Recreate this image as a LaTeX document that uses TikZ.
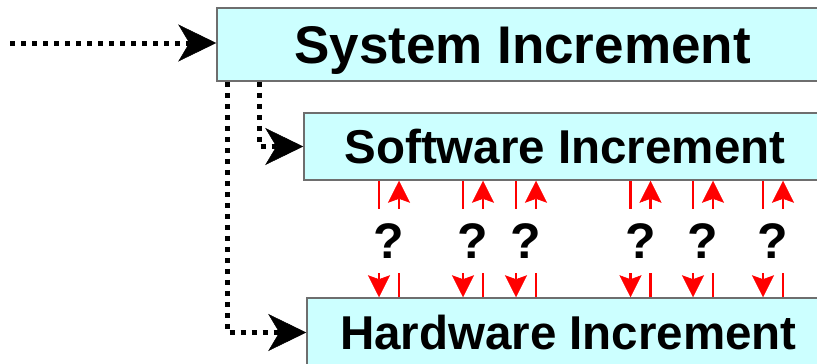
\documentclass[tikz,border=0pt]{standalone}
\usepackage{fontspec}
\setmainfont{Liberation Sans}
\usepackage{xcolor}
\usepackage{tikz}
\usetikzlibrary{arrows.meta}
\definecolor{boxcolor}{HTML}{CCFFFF}
\definecolor{edgecolor}{HTML}{6E6E6E}

\begin{document}
\begin{tikzpicture}[x=1pt, y=-1pt,
  incbox/.style={draw=edgecolor, line width=1.5pt, fill=boxcolor, inner sep=0pt, text depth=0pt},
  dotflow/.style={line width=5pt, dash pattern=on 5pt off 6pt, -{Stealth[length=38pt, width=37pt, inset=11pt, line width=0.5pt]}},
  redflow/.style={red, line width=2.5pt},
  redtip/.style={-{Stealth[length=22pt, width=22pt, inset=4pt, line width=0.5pt]}},
  query/.style={minimum height=64pt, inner sep=0pt, font=\fontsize{50pt}{60pt}\selectfont\bfseries}]%
\useasboundingbox (0,0) rectangle (817,364);%
\clip (0,0) rectangle (817,364);%
\node[incbox, minimum width=611pt, minimum height=73pt, text height=38pt, font=\fontsize{53pt}{64pt}\selectfont\bfseries] (sys) at (522.5,44.5) {System Increment};%
\node[incbox, minimum width=522pt, minimum height=67pt, text height=34pt, font=\fontsize{47.5pt}{57pt}\selectfont\bfseries] (sw) at (565,146.5) {Software Increment};%
\node[incbox, minimum width=523pt, minimum height=69pt, text height=34pt, font=\fontsize{47.5pt}{57pt}\selectfont\bfseries] (hw) at (568.5,332.5) {Hardware Increment};%
% dotted flows
\coordinate (in) at (10,43);%
\draw[dotflow] (in) -- (in -| sys.west);%
\draw[dotflow] ([xshift=43pt]sys.south west) |- (sw.west);%
\draw[dotflow] ([xshift=11pt]sys.south west) |- (hw.west);%
% open questions between software and hardware
\foreach \x [count=\i] in {389,473,526,640.5,703,773} {%
  \node[query] (q\i) at (\x,241) {?};%
  \coordinate (dn\i) at ([xshift=-10pt]q\i.center);%
  \coordinate (up\i) at ([xshift=10pt]q\i.center);%
  \draw[redflow] (dn\i |- sw.south) -- (dn\i |- q\i.north);%
  \draw[redflow, redtip] (dn\i |- q\i.south) -- (dn\i |- hw.north);%
  \draw[redflow] (up\i |- hw.north) -- (up\i |- q\i.south);%
  \draw[redflow, redtip] (up\i |- q\i.north) -- (up\i |- sw.south);%
}%
\end{tikzpicture}
\end{document}
